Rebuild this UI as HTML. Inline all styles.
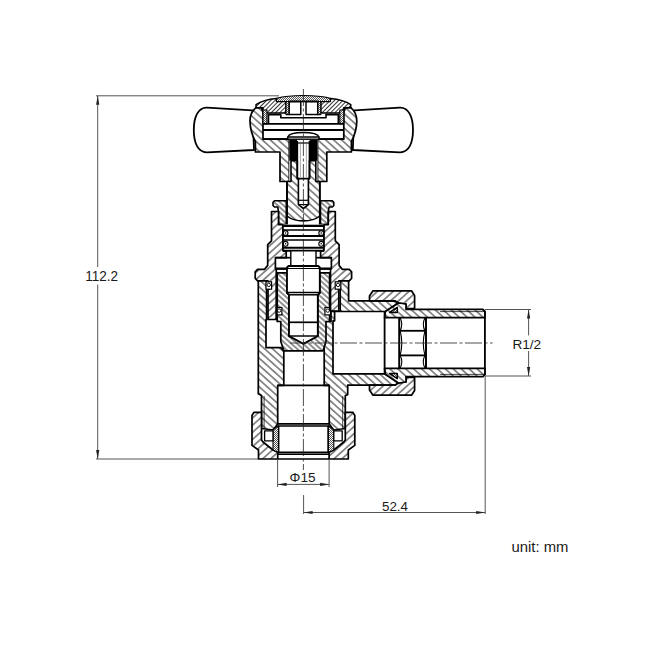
<!DOCTYPE html>
<html lang="en"><head><meta charset="utf-8"><title>Angled radiator valve - dimensions</title>
<style>
html,body{margin:0;padding:0;background:#fff;}
body{width:650px;height:650px;overflow:hidden;font-family:"Liberation Sans",sans-serif;}
svg{display:block;}
text{font-family:"Liberation Sans",sans-serif;fill:#1a1a1a;}
</style></head><body>
<svg width="650" height="650" viewBox="0 0 650 650">
<defs>
<pattern id="hA" width="5.3" height="5.3" patternUnits="userSpaceOnUse" patternTransform="rotate(42)"><rect width="5.3" height="5.3" fill="#fff"/><line x1="-1" y1="2.65" x2="6.3" y2="2.65" stroke="#000" stroke-width="0.85"/></pattern>
<pattern id="hB" width="5.3" height="5.3" patternUnits="userSpaceOnUse" patternTransform="rotate(-42)"><rect width="5.3" height="5.3" fill="#fff"/><line x1="-1" y1="2.65" x2="6.3" y2="2.65" stroke="#000" stroke-width="0.85"/></pattern>
<pattern id="hC" width="3" height="3" patternUnits="userSpaceOnUse" patternTransform="rotate(-45)"><rect width="3" height="3" fill="#fff"/><line x1="-1" y1="1.5" x2="4" y2="1.5" stroke="#000" stroke-width="0.8"/></pattern>
<pattern id="hD" width="3.9" height="3.9" patternUnits="userSpaceOnUse" patternTransform="rotate(42)"><rect width="3.9" height="3.9" fill="#fff"/><line x1="-1" y1="1.95" x2="4.9" y2="1.95" stroke="#000" stroke-width="0.85"/></pattern>
<pattern id="hE" width="3.5" height="3.5" patternUnits="userSpaceOnUse" patternTransform="rotate(-42)"><rect width="3.5" height="3.5" fill="#fff"/><line x1="-1" y1="1.75" x2="4.5" y2="1.75" stroke="#000" stroke-width="0.85"/></pattern>
<pattern id="st" width="2" height="2" patternUnits="userSpaceOnUse"><rect width="2" height="2" fill="#fff"/><rect width="1" height="1" fill="#555"/><rect x="1" y="1" width="1" height="1" fill="#555"/></pattern>
</defs>
<rect width="650" height="650" fill="#fff"/>

<g id="handles" fill="#fff" stroke="#000" stroke-width="1.8" stroke-linejoin="round">
<path d="M252.5,110.3 L207,107.7 C198,107.4 193.8,117 193.8,130 C193.8,143 198,152.6 207,152.3 L254,150 Z"/>
<path d="M354.3 110.3 L399.8 107.7 C408.8 107.4 413 117 413 130 C413 143 408.8 152.6 399.8 152.3 L352.8 150 Z"/>
</g>
<g id="hub">
<path d="M262,107.7 L256,107.7 C252,111 249.8,116 250,121.5 C250.2,130 252.5,136 255.4,141.5 L255.4,152 L280,152 L280,181.5 L289.3,181.5 L289.3,139.2 L263,139.2 L263,110 L262,110 Z" fill="url(#hA)" stroke="#000" stroke-width="1.71" stroke-linejoin="round"/>
<path d="M344.8 107.7 L350.8 107.7 C354.8 111 357 116 356.8 121.5 C356.6 130 354.3 136 351.4 141.5 L351.4 152 L326.8 152 L326.8 181.5 L317.5 181.5 L317.5 139.2 L343.8 139.2 L343.8 110 L344.8 110 Z" fill="url(#hA)" stroke="#000" stroke-width="1.71" stroke-linejoin="round"/>
<path d="M256,104.6 C262,100.5 270,99 276.5,98.4 L276.5,101.5 L286,101.5 L286,113 L263,113 L263,107.7 L256,107.7 Z" fill="url(#hC)" stroke="#000" stroke-width="1.46" stroke-linejoin="round"/>
<path d="M350.8 104.6 C344.8 100.5 336.8 99 330.3 98.4 L330.3 101.5 L320.8 101.5 L320.8 113 L343.8 113 L343.8 107.7 L350.8 107.7 Z" fill="url(#hC)" stroke="#000" stroke-width="1.46" stroke-linejoin="round"/>
<path d="M276.5,101.5 L276.5,98.4 C290,94.6 316.8,94.6 330.3,98.4 L330.3,101.5 Z" fill="url(#st)" stroke="#000" stroke-width="1.1"/>
<polygon points="286,101.5 289.2,101.5 289.2,114.6 286,114.6" fill="url(#st)" stroke="#000" stroke-width="1.1" stroke-linejoin="round" />
<polygon points="320.8,101.5 317.6,101.5 317.6,114.6 320.8,114.6" fill="url(#st)" stroke="#000" stroke-width="1.1" stroke-linejoin="round" />
<polygon points="263,110 267,110 267,123.8 263,123.8" fill="url(#st)" stroke="#000" stroke-width="1.1" stroke-linejoin="round" />
<polygon points="343.8,110 339.8,110 339.8,123.8 343.8,123.8" fill="url(#st)" stroke="#000" stroke-width="1.1" stroke-linejoin="round" />
<polygon points="289.2,101.5 300.8,101.5 300.8,114.6 289.2,114.6" fill="#fff" stroke="#000" stroke-width="1.46" stroke-linejoin="round" />
<polygon points="306,101.5 317.7,101.5 317.7,114.6 306,114.6" fill="#fff" stroke="#000" stroke-width="1.46" stroke-linejoin="round" />
<line x1="289.2" y1="101.5" x2="317.7" y2="101.5" stroke="#000" stroke-width="1.71" />
<polyline points="268.5,123.8 268.5,114.6 280.8,114.6 280.8,117.7 326,117.7 326,114.6 338.3,114.6 338.3,123.8" fill="none" stroke="#000" stroke-width="1.59" stroke-linejoin="round" />
<line x1="263" y1="123.8" x2="343.8" y2="123.8" stroke="#000" stroke-width="1.83" />
<line x1="263" y1="130" x2="343.8" y2="130" stroke="#000" stroke-width="1.83" />
<line x1="263" y1="139.2" x2="343.8" y2="139.2" stroke="#000" stroke-width="1.83" />
<path d="M287.7,139.2 L287.7,137 C290,131 316.8,131 319.1,137 L319.1,139.2 Z" fill="#fff" stroke="#000" stroke-width="1.4"/>
<line x1="287.7" y1="137" x2="319.1" y2="137" stroke="#000" stroke-width="1.34" />
</g>
<g id="spindle">
<rect x="289.3" y="139.9" width="28.2" height="41.6" fill="#fff"/>
<path d="M291,160.6 L297.3,160.6 L297.3,178.6 L298.4,178.6 L298.4,204.6 L303.4,208.5 L308.4,204.6 L308.4,178.6 L309.5,178.6 L309.5,160.6 L315.8,160.6 L315.8,181.5 L319.8,181.5 L319.8,216 C312,222.5 294.8,222.5 287,216 L287,181.5 L291,181.5 Z" fill="url(#hA)" stroke="#000" stroke-width="1.6" stroke-linejoin="round"/>
<path d="M287,181.5 L287,225.3 L319.8,225.3 L319.8,181.5" fill="none" stroke="#000" stroke-width="1.8"/>
<rect x="289.3" y="139.9" width="7.8" height="20.7" fill="#000"/>
<rect x="309.7" y="139.9" width="7.8" height="20.7" fill="#000"/>
<line x1="298.4" y1="200.3" x2="308.4" y2="200.3" stroke="#000" stroke-width="1.22" />
<line x1="298.4" y1="204.6" x2="308.4" y2="204.6" stroke="#000" stroke-width="1.22" />
<polyline points="297.3,141 297.3,178.6 309.5,178.6 309.5,141" fill="none" stroke="#000" stroke-width="1.71" stroke-linejoin="round" />
<line x1="297.3" y1="143" x2="309.5" y2="143" stroke="#000" stroke-width="1.22" />
<line x1="300.4" y1="144" x2="300.4" y2="177" stroke="#888" stroke-width="0.7" />
<line x1="306.4" y1="144" x2="306.4" y2="177" stroke="#888" stroke-width="0.7" />
</g>
<g id="gland">
<polygon points="274.5,200.8 286.3,200.8 286.3,224.6 278.5,224.6 278.5,211.5 277.7,207 274.5,207 273,205.5 273,202.3" fill="url(#hD)" stroke="#000" stroke-width="1.59" stroke-linejoin="round" />
<polygon points="332.3,200.8 320.5,200.8 320.5,224.6 328.3,224.6 328.3,211.5 329.1,207 332.3,207 333.8,205.5 333.8,202.3" fill="url(#hD)" stroke="#000" stroke-width="1.59" stroke-linejoin="round" />
</g>
<g id="bonnet">
<polygon points="271.5,211.5 271.5,240.8 267.7,244.6 267.7,265.4 264.6,269.3 257.6,269.3 255.2,271.8 255.2,278.4 257.6,280.8 268,280.8 268,319.5 276.3,319.5 276.3,268.5 275.4,268.5 275.4,257.7 286.2,257.7 286.2,250.8 283,250.8 283,224.6 278.5,224.6 278.5,211.5" fill="url(#hB)" stroke="#000" stroke-width="1.71" stroke-linejoin="round" />
<polygon points="335.3,211.5 335.3,240.8 339.1,244.6 339.1,265.4 342.2,269.3 349.2,269.3 351.6,271.8 351.6,278.4 349.2,280.8 338.8,280.8 338.8,311.2 330.5,311.2 330.5,268.5 331.4,268.5 331.4,257.7 320.6,257.7 320.6,250.8 323.8,250.8 323.8,224.6 328.3,224.6 328.3,211.5" fill="url(#hB)" stroke="#000" stroke-width="1.71" stroke-linejoin="round" />
</g>
<g id="packing">
<rect x="283" y="224.6" width="40.8" height="26.2" fill="#fff"/>
<line x1="283" y1="226" x2="323.8" y2="226" stroke="#000" stroke-width="1.95" />
<line x1="283" y1="230" x2="323.8" y2="230" stroke="#000" stroke-width="1.59" />
<line x1="283" y1="236" x2="323.8" y2="236" stroke="#000" stroke-width="1.95" />
<line x1="283" y1="240" x2="323.8" y2="240" stroke="#000" stroke-width="1.59" />
<line x1="283" y1="247.7" x2="323.8" y2="247.7" stroke="#000" stroke-width="1.95" />
<line x1="283" y1="250.8" x2="323.8" y2="250.8" stroke="#000" stroke-width="1.95" />
<circle cx="285.6" cy="233" r="2.4" fill="#fff" stroke="#000" stroke-width="1.1"/>
<circle cx="285.6" cy="233" r="0.8" fill="#000"/>
<circle cx="321.2" cy="233" r="2.4" fill="#fff" stroke="#000" stroke-width="1.1"/>
<circle cx="321.2" cy="233" r="0.8" fill="#000"/>
<circle cx="285.6" cy="243.8" r="2.4" fill="#fff" stroke="#000" stroke-width="1.1"/>
<circle cx="285.6" cy="243.8" r="0.8" fill="#000"/>
<circle cx="321.2" cy="243.8" r="2.4" fill="#fff" stroke="#000" stroke-width="1.1"/>
<circle cx="321.2" cy="243.8" r="0.8" fill="#000"/>
<line x1="283" y1="224.6" x2="283" y2="250.8" stroke="#000" stroke-width="1.59" />
<line x1="323.8" y1="224.6" x2="323.8" y2="250.8" stroke="#000" stroke-width="1.59" />
<rect x="290.8" y="250.8" width="25.2" height="15.2" fill="#fff" stroke="#000" stroke-width="1.4"/>
<line x1="275.4" y1="257.7" x2="290.8" y2="257.7" stroke="#000" stroke-width="1.71" />
<line x1="316" y1="257.7" x2="331.4" y2="257.7" stroke="#000" stroke-width="1.71" />
<line x1="275.4" y1="268.7" x2="287" y2="268.7" stroke="#000" stroke-width="2.44" />
<line x1="319.8" y1="268.7" x2="331.4" y2="268.7" stroke="#000" stroke-width="2.44" />
</g>
<g id="body">
<polygon points="258.3,280.8 266.6,280.8 266.6,319.5 266,319.5 266,347.7 280.8,347.7 283.8,350.8 283.8,385.4 277.7,385.4 277.7,424 273,430 261.5,428.5 261.5,395.5 258.3,393.8" fill="url(#hA)" stroke="#000" stroke-width="1.71" stroke-linejoin="round" />
<polygon points="340.2,280.8 348.6,280.8 348.6,300.8 395,300.8 398.5,303 385.4,311.5 334.6,311.5 334.6,320.8 333,320.8 333,373.8 385.4,373.8 398.5,383 395,385.2 347.7,385.2 347.7,394.6 345.3,395.5 345.3,428.5 333.8,430 329.2,424 329.2,385.4 324.2,385.4 324.2,321.5 331,321.5 331,311.5 340.2,311.5" fill="url(#hA)" stroke="#000" stroke-width="1.71" stroke-linejoin="round" />
</g>
<g id="plug">
<polygon points="277.2,272.8 287,272.8 287,293 289,294.6 289,336 303.4,343.8 317.8,336 317.8,294.6 319.8,293 319.8,272.8 329.6,272.8 329.6,321.5 326,321.5 326,341.5 323,350.8 283.8,350.8 280.8,341.5 280.8,321.5 277.2,321.5" fill="url(#hD)" stroke="#000" stroke-width="1.71" stroke-linejoin="round" />
<polygon points="288.5,266 318.3,266 319.8,267.5 319.8,293 317.8,294.6 317.8,336 303.4,343.8 289,336 289,294.6 287,293 287,267.5" fill="#fff" stroke="#000" stroke-width="1.83" stroke-linejoin="round" />
<line x1="287" y1="292.6" x2="319.8" y2="292.6" stroke="#000" stroke-width="1.46" />
<line x1="289" y1="294.8" x2="317.8" y2="294.8" stroke="#000" stroke-width="1.46" />
<line x1="289" y1="322.3" x2="317.8" y2="322.3" stroke="#000" stroke-width="1.71" />
<line x1="289" y1="336" x2="317.8" y2="336" stroke="#000" stroke-width="1.46" />
<line x1="287" y1="268.5" x2="319.8" y2="268.5" stroke="#000" stroke-width="1.22" />
<rect x="266" y="281.8" width="5.6" height="7.4" fill="#fff" stroke="#000" stroke-width="1.2"/>
<circle cx="268.8" cy="284.9" r="1.7" fill="#fff" stroke="#000" stroke-width="0.9"/>
<rect x="335.2" y="281.8" width="5.6" height="7.4" fill="#fff" stroke="#000" stroke-width="1.2"/>
<circle cx="338" cy="284.9" r="1.7" fill="#fff" stroke="#000" stroke-width="0.9"/>
<rect x="276.3" y="307.5" width="5.6" height="7.4" fill="#fff" stroke="#000" stroke-width="1.2"/>
<circle cx="279.1" cy="310.6" r="1.7" fill="#fff" stroke="#000" stroke-width="0.9"/>
<rect x="324.9" y="307.5" width="5.6" height="7.4" fill="#fff" stroke="#000" stroke-width="1.2"/>
<circle cx="327.7" cy="310.6" r="1.7" fill="#fff" stroke="#000" stroke-width="0.9"/>
<line x1="276.8" y1="272.8" x2="276.8" y2="319.5" stroke="#000" stroke-width="1.95" />
<line x1="330" y1="272.8" x2="330" y2="311" stroke="#000" stroke-width="1.95" />
</g>
<g id="unionnut">
<polygon points="373,290.8 411.5,290.8 414.6,295.4 414.6,308.5 406,308.5 406,304 398.5,303 395,300.8 369.5,300.8 369.5,296" fill="url(#hB)" stroke="#000" stroke-width="1.71" stroke-linejoin="round" />
<polygon points="373,395.2 411.5,395.2 414.6,390.6 414.6,377.5 406,377.5 406,382 398.5,383 395,385.2 369.5,385.2 369.5,390" fill="url(#hB)" stroke="#000" stroke-width="1.71" stroke-linejoin="round" />
</g>
<g id="nipple">
<polygon points="385.4,311.5 398.5,303 406,304 406,309.4 483,309.4 484.9,311.3 484.9,317.7 384.6,317.7" fill="url(#hA)" stroke="#000" stroke-width="1.71" stroke-linejoin="round" />
<polygon points="385.4,374.5 398.5,383 406,382 406,376.6 483,376.6 484.9,374.7 484.9,368.3 384.6,368.3" fill="url(#hA)" stroke="#000" stroke-width="1.71" stroke-linejoin="round" />
<line x1="384.6" y1="311.5" x2="384.6" y2="374.5" stroke="#000" stroke-width="1.83" />
<line x1="484.9" y1="311" x2="484.9" y2="375" stroke="#000" stroke-width="1.83" />
<line x1="399.2" y1="317.7" x2="399.2" y2="368.3" stroke="#000" stroke-width="1.95" />
<line x1="426" y1="317.7" x2="426" y2="368.3" stroke="#000" stroke-width="1.95" />
<line x1="400" y1="330.8" x2="425.5" y2="330.8" stroke="#000" stroke-width="1.83" />
<line x1="400" y1="355.4" x2="425.5" y2="355.4" stroke="#000" stroke-width="1.83" />
<path d="M400.2,318 Q403.4,324.4 400.2,330.8" fill="none" stroke="#000" stroke-width="1.1"/>
<path d="M400.2,330.8 Q403.4,343.1 400.2,355.4" fill="none" stroke="#000" stroke-width="1.1"/>
<path d="M400.2,355.4 Q403.4,361.7 400.2,368" fill="none" stroke="#000" stroke-width="1.1"/>
<path d="M424.9,318 Q421.7,324.4 424.9,330.8" fill="none" stroke="#000" stroke-width="1.1"/>
<path d="M424.9,330.8 Q421.7,343.1 424.9,355.4" fill="none" stroke="#000" stroke-width="1.1"/>
<path d="M424.9,355.4 Q421.7,361.7 424.9,368" fill="none" stroke="#000" stroke-width="1.1"/>
<polygon points="389.6,312.4 397.3,307.3 397.3,312.4" fill="url(#st)" stroke="#000" stroke-width="1.46" stroke-linejoin="round" />
<polygon points="389.6,373.6 397.3,378.7 397.3,373.6" fill="url(#st)" stroke="#000" stroke-width="1.46" stroke-linejoin="round" />
<line x1="440" y1="311.6" x2="484" y2="311.6" stroke="#000" stroke-width="0.73" />
<line x1="440" y1="374.4" x2="484" y2="374.4" stroke="#000" stroke-width="0.73" />
</g>
<g id="compnut">
<polygon points="254,412.3 261.5,412.3 261.5,440 263,442 273,450 277.7,452.3 277.7,459 258.5,459 258.5,450 252,445.4 252,415.5" fill="url(#hB)" stroke="#000" stroke-width="1.71" stroke-linejoin="round" />
<polygon points="352.8,412.3 345.3,412.3 345.3,440 343.8,442 333.8,450 329.1,452.3 329.1,459 348.3,459 348.3,450 354.8,445.4 354.8,415.5" fill="url(#hB)" stroke="#000" stroke-width="1.71" stroke-linejoin="round" />
<polygon points="273,430 277.7,426 278.6,426 278.6,452.3 277.7,452.3 273,450" fill="url(#st)" stroke="#000" stroke-width="1.1" stroke-linejoin="round" />
<polygon points="333.8,430 329.1,426 328.2,426 328.2,452.3 329.1,452.3 333.8,450" fill="url(#st)" stroke="#000" stroke-width="1.1" stroke-linejoin="round" />
<polygon points="264.6,430.8 273,430.8 273,440.8 264.6,440.8" fill="#fff" stroke="#000" stroke-width="1.34" stroke-linejoin="round" />
<polygon points="342.2,430.8 333.8,430.8 333.8,440.8 342.2,440.8" fill="#fff" stroke="#000" stroke-width="1.34" stroke-linejoin="round" />
<line x1="277.7" y1="423.8" x2="329.2" y2="423.8" stroke="#000" stroke-width="1.83" />
<line x1="277.7" y1="426" x2="329.2" y2="426" stroke="#000" stroke-width="1.59" />
<line x1="277.7" y1="452.3" x2="329.2" y2="452.3" stroke="#000" stroke-width="1.83" />
<line x1="277.7" y1="454.2" x2="329.2" y2="454.2" stroke="#000" stroke-width="1.59" />
<line x1="277.7" y1="459" x2="329.2" y2="459" stroke="#000" stroke-width="1.71" />
<line x1="277.7" y1="385.4" x2="329.2" y2="385.4" stroke="#000" stroke-width="1.83" />
<line x1="278.6" y1="426" x2="278.6" y2="452.3" stroke="#000" stroke-width="1.46" />
<line x1="328.2" y1="426" x2="328.2" y2="452.3" stroke="#000" stroke-width="1.46" />
<line x1="264.1" y1="396" x2="264.1" y2="428" stroke="#000" stroke-width="0.73" />
<line x1="342.7" y1="396" x2="342.7" y2="428" stroke="#000" stroke-width="0.73" />
</g>
<g id="centrelines" stroke="#222" stroke-width="0.8" fill="none">
<line x1="303.4" y1="89" x2="303.4" y2="470" stroke-dasharray="17 2.5 3 2.5"/>
<line x1="290" y1="343" x2="492.6" y2="343" stroke-dasharray="17 2.5 3 2.5"/>
</g>
<g id="dims">
<line x1="96" y1="95.8" x2="279" y2="95.8" stroke="#555" stroke-width="1" />
<line x1="96" y1="459" x2="258" y2="459" stroke="#555" stroke-width="1" />
<line x1="97.7" y1="95.8" x2="97.7" y2="267" stroke="#555" stroke-width="1" />
<line x1="97.7" y1="284.6" x2="97.7" y2="459" stroke="#555" stroke-width="1" />
<polygon points="97.7,95.8 96.1,104.8 99.3,104.8" fill="#222"/>
<polygon points="97.7,459 96.1,450 99.3,450" fill="#222"/>
<text x="85.2" y="281.2" font-size="13.8" textLength="33" lengthAdjust="spacingAndGlyphs">112.2</text>
<line x1="277.6" y1="459" x2="277.6" y2="487" stroke="#555" stroke-width="1" />
<line x1="329.1" y1="459" x2="329.1" y2="487" stroke="#555" stroke-width="1" />
<line x1="277.6" y1="484.4" x2="329.1" y2="484.4" stroke="#555" stroke-width="1" />
<polygon points="277.6,484.4 286.6,482.8 286.6,486" fill="#222"/>
<polygon points="329.1,484.4 320.1,482.8 320.1,486" fill="#222"/>
<text x="289.6" y="482.4" font-size="13.2" textLength="26" lengthAdjust="spacingAndGlyphs">&#934;15</text>
<line x1="303.6" y1="495" x2="303.6" y2="514" stroke="#555" stroke-width="1" />
<line x1="485.2" y1="376" x2="485.2" y2="514" stroke="#555" stroke-width="1" />
<line x1="303.6" y1="512.5" x2="485.2" y2="512.5" stroke="#555" stroke-width="1" />
<polygon points="303.6,512.5 312.6,510.9 312.6,514.1" fill="#222"/>
<polygon points="485.2,512.5 476.2,510.9 476.2,514.1" fill="#222"/>
<text x="382" y="510.8" font-size="13.2" textLength="26" lengthAdjust="spacingAndGlyphs">52.4</text>
<line x1="485" y1="309.5" x2="531" y2="309.5" stroke="#555" stroke-width="1" />
<line x1="485" y1="376" x2="531" y2="376" stroke="#555" stroke-width="1" />
<line x1="528.6" y1="309.5" x2="528.6" y2="335.4" stroke="#555" stroke-width="1" />
<line x1="528.6" y1="351" x2="528.6" y2="376" stroke="#555" stroke-width="1" />
<polygon points="528.6,309.5 527,318.5 530.2,318.5" fill="#222"/>
<polygon points="528.6,376 527,367 530.2,367" fill="#222"/>
<text x="512.4" y="348.7" font-size="13.6" textLength="28.8" lengthAdjust="spacingAndGlyphs">R1/2</text>
<text x="511.5" y="552" font-size="14.8" textLength="57" lengthAdjust="spacingAndGlyphs">unit: mm</text>
</g>
</svg>
</body></html>
